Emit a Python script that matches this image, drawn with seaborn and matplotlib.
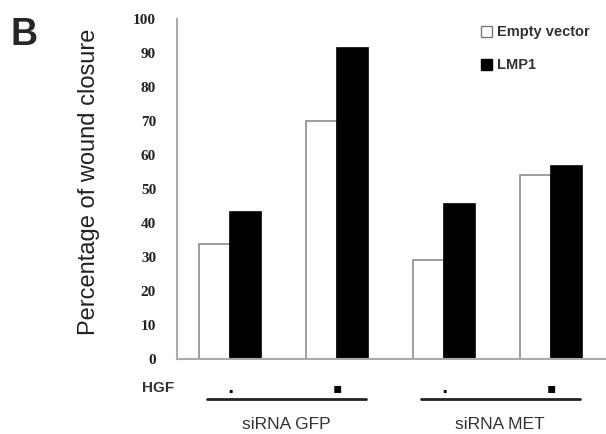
import pandas as pd
import matplotlib
matplotlib.use("Agg")
import matplotlib.pyplot as plt
from matplotlib.patches import Patch
import seaborn as sns

# values
conditions = ["GFP -", "GFP +", "MET -", "MET +"]
hgf_marks = [".", "▪", ".", "▪"]
groups = ["siRNA GFP", "siRNA MET"]
empty_vector = [33.7, 70.0, 29.2, 54.2]
lmp1 = [43.3, 91.5, 45.5, 56.7]
series = ["Empty vector", "LMP1"]

data = pd.DataFrame({
    "condition": conditions * 2,
    "closure": empty_vector + lmp1,
    "series": [series[0]] * 4 + [series[1]] * 4,
})

sns.set_style("white")
plt.rcParams["font.family"] = ["Liberation Sans", "DejaVu Sans"]

fig = plt.figure(figsize=(6.06, 4.34), dpi=100)
ax = fig.add_axes([0.292, 0.173, 0.706, 0.783])

sns.barplot(data=data, x="condition", y="closure", hue="series",
            palette=["white", "black"], width=0.58, ax=ax, legend=False)

# edge colours: grey outline on the white bars, black on the black ones
for bar in ax.patches:
    fc = bar.get_facecolor()
    if fc[0] > 0.5:
        bar.set_edgecolor("#8c8c8c")
    else:
        bar.set_edgecolor("black")
    bar.set_linewidth(1.2)

ax.set_ylim(0, 100)
ax.set_xlim(-0.5, 3.5)
ax.set_yticks(range(0, 101, 10))
ax.set_yticklabels([str(v) for v in range(0, 101, 10)],
                   family="Liberation Serif", fontsize=11, fontweight="bold",
                   color="#222222")
ax.set_xticks([0.5, 1.5, 2.5, 3.5])
ax.set_xticklabels([])
ax.tick_params(axis="both", length=3, color="#aaaaaa", width=1.2, direction="out")
ax.tick_params(axis="y", pad=12)
ax.set_xlabel("")
ax.set_ylabel("Percentage of wound closure", fontsize=17, color="#222222")
ax.yaxis.set_label_coords(-0.18, 0.52)

sns.despine(ax=ax)
for s in ["left", "bottom"]:
    ax.spines[s].set_color("#aaaaaa")
    ax.spines[s].set_linewidth(1.5)

# HGF row under the axis
trans = ax.get_xaxis_transform()
ax.text(-0.68, -0.085, "HGF", transform=trans, ha="center", va="center",
        fontsize=11, fontweight="bold", color="#333333")
for i, m in enumerate(hgf_marks):
    ax.text(i, -0.085, m, transform=trans, ha="center", va="center",
            fontsize=12 if m == "." else 10, fontweight="bold", color="black",
            family=["DejaVu Sans"])

# group bracket lines and labels
for g, name in enumerate(groups):
    x0 = 2 * g - 0.22
    x1 = 2 * g + 1.27
    ax.plot([x0, x1], [-0.118, -0.118], transform=trans, color="#222222",
            lw=2, clip_on=False)
    ax.text(2 * g + 0.52, -0.193, name, transform=trans, ha="center",
            va="center", fontsize=12.5, color="#333333")

# legend
handles = [Patch(facecolor="white", edgecolor="#777777", label=series[0]),
           Patch(facecolor="black", edgecolor="black", label=series[1])]
leg = ax.legend(handles=handles, loc="upper right", bbox_to_anchor=(0.995, 1.02),
                frameon=False, handlelength=0.8, handleheight=0.8,
                handletextpad=0.3, labelspacing=1.3,
                prop={"family": "Liberation Sans", "size": 10.5, "weight": "bold"})
for t in leg.get_texts():
    t.set_color("#333333")

fig.text(0.04, 0.92, "B", fontsize=27, fontweight="bold", ha="center", va="center")

plt.savefig("out.png", dpi=100)
